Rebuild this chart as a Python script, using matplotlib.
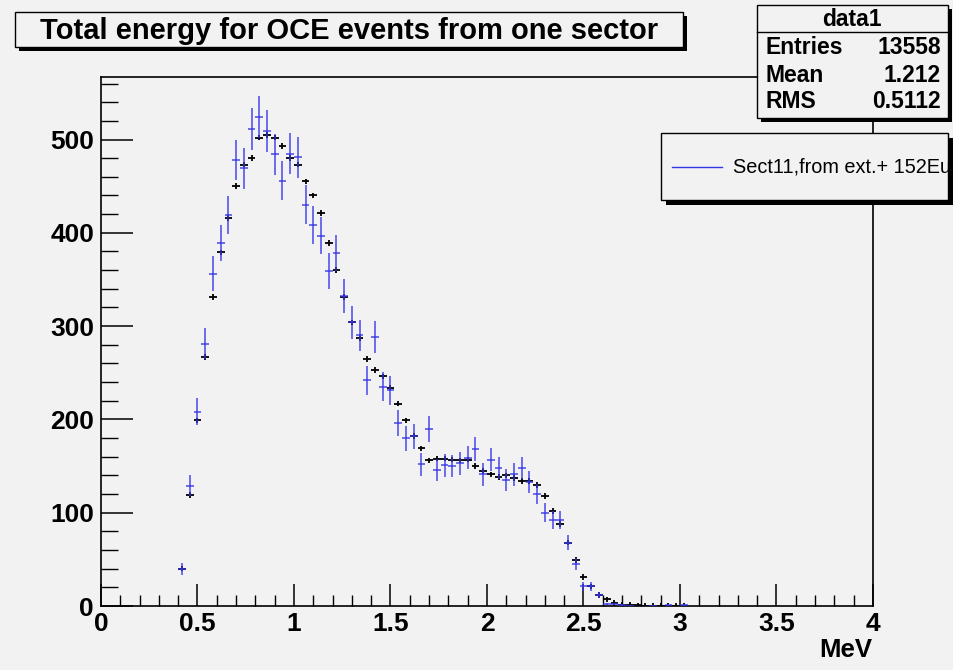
import numpy as np
import matplotlib
matplotlib.use('Agg')
import matplotlib.pyplot as plt
from matplotlib.patches import Rectangle
from matplotlib.lines import Line2D
from matplotlib.ticker import MultipleLocator

# ---------------- data ----------------
centers = [0.42, 0.46, 0.50, 0.54, 0.58, 0.62, 0.66, 0.70, 0.74, 0.78,
           0.82, 0.86, 0.90, 0.94, 0.98, 1.02, 1.06, 1.10, 1.14, 1.18,
           1.22, 1.26, 1.30, 1.34, 1.38, 1.42, 1.46, 1.50, 1.54, 1.58,
           1.62, 1.66, 1.70, 1.74, 1.78, 1.82, 1.86, 1.90, 1.94, 1.98,
           2.02, 2.06, 2.10, 2.14, 2.18, 2.22, 2.26, 2.30, 2.34, 2.38,
           2.42, 2.46, 2.50, 2.54, 2.58, 2.62, 2.66, 2.70, 2.74, 2.78,
           2.82, 2.86, 2.90, 2.94, 2.98, 3.02]
black_counts = [40, 119, 199, 267, 331, 379, 416, 450, 473, 480,
                502, 505, 502, 493, 480, 473, 455, 440, 421, 389,
                360, 331, 304, 287, 265, 253, 246, 234, 217, 199,
                182, 169, 156, 158, 158, 157, 156, 157, 150, 145,
                141, 138, 140, 137, 134, 134, 130, 118, 102, 88,
                68, 49, 31, 21, 12, 7, 3.5, 1.5, 1.0, 0.6,
                0.5, 0.3, 0.3, 0.2, 0.2, 0.1]
blue_counts = [40, 129, 208, 281, 356, 389, 419, 478, 469, 511,
               524, 509, 484, 456, 485, 481, 430, 408, 397, 359,
               378, 332, 304, 290, 242, 288, 235, 231, 196, 180,
               182, 152, 190, 146, 151, 150, 153, 159, 168, 141,
               157, 148, 135, 141, 148, 133, 120, 100, 92, 92,
               68, 45, 21, 21, 12, 2, 2, 1, 0.5, 0,
               0, 0.5, 0, 1, 0, 1]
bin_halfwidth = 0.02

title_text = "Total energy for OCE events from one sector"
stats_name = "data1"
stats_labels = ["Entries", "Mean", "RMS"]
stats_values = ["13558", "1.212", "0.5112"]
legend_label = "Sect11,from ext.+ 152Eu"
x_label = "MeV"
x_ticks = [0, 0.5, 1, 1.5, 2, 2.5, 3, 3.5, 4]
x_ticklabels = ["0", "0.5", "1", "1.5", "2", "2.5", "3", "3.5", "4"]
y_ticks = [0, 100, 200, 300, 400, 500]

# ---------------- figure ----------------
W, H = 954, 670
BG = '#f2f2f2'
plt.rcParams['font.family'] = ['Liberation Sans', 'DejaVu Sans']

fig = plt.figure(figsize=(W / 100, H / 100), dpi=100, facecolor=BG)


def fx(x):
    return x / W


def fy(y):
    return 1 - y / H


ax = fig.add_axes([fx(101), fy(606), fx(873) - fx(101), fy(77) - fy(606)])
ax.set_facecolor(BG)
ax.set_xlim(0, 4)
ax.set_ylim(0, 567)

c = np.array(centers)
bk = np.array(black_counts, dtype=float)
bl = np.array(blue_counts, dtype=float)

# black (reference) histogram: small error crosses
mk = bk > 0
ax.errorbar(c[mk], bk[mk], xerr=bin_halfwidth, yerr=np.full(mk.sum(), 3.0),
            fmt='none', ecolor='black', elinewidth=1.3, capsize=0, zorder=3)

# blue data histogram with Poisson errors
mb = bl > 0
ax.errorbar(c[mb], bl[mb], xerr=bin_halfwidth, yerr=np.sqrt(bl[mb]),
            fmt='none', ecolor='#3535e8', elinewidth=1.1, capsize=0, zorder=4,
            alpha=0.9)

# axes styling
for s in ax.spines.values():
    s.set_linewidth(1.2)
    s.set_color('black')
ax.set_xticks(x_ticks)
ax.set_xticklabels(x_ticklabels)
ax.set_yticks(y_ticks)
ax.xaxis.set_minor_locator(MultipleLocator(0.1))
ax.yaxis.set_minor_locator(MultipleLocator(20))
ax.tick_params(axis='x', which='major', direction='in', length=16, width=1.1,
               labelsize=19, pad=4, top=False)
ax.tick_params(axis='x', which='minor', direction='in', length=8, width=1.0,
               top=False)
ax.tick_params(axis='y', which='major', direction='in', length=23, width=1.1,
               labelsize=19, pad=5, right=False)
ax.tick_params(axis='y', which='minor', direction='in', length=12, width=1.0,
               right=False)
for lab in ax.get_xticklabels() + ax.get_yticklabels():
    lab.set_fontweight('bold')

fig.text(fx(872), fy(650), x_label, ha='right', va='center', fontsize=18.5,
         fontweight='bold')


def shadow_box(x0, y0, x1, y1, off=4):
    sh = Rectangle((fx(x0 + off), fy(y1 + off)), fx(x1) - fx(x0), fy(y0) - fy(y1),
                   transform=fig.transFigure, facecolor='black', edgecolor='black',
                   lw=0, zorder=10)
    bx = Rectangle((fx(x0), fy(y1)), fx(x1) - fx(x0), fy(y0) - fy(y1),
                   transform=fig.transFigure, facecolor=BG, edgecolor='black',
                   lw=1.0, zorder=11)
    fig.add_artist(sh)
    fig.add_artist(bx)


# title box
shadow_box(15, 12, 683, 47)
fig.text(fx(349), fy(31), title_text, ha='center', va='center', fontsize=21,
         fontweight='bold', zorder=12)

# stats box
shadow_box(757, 5, 948, 118)
fig.add_artist(Line2D([fx(757), fx(948)], [fy(32), fy(32)], transform=fig.transFigure,
                      color='black', lw=1.0, zorder=12))
fig.text(fx(852), fy(19), stats_name, ha='center', va='center', fontsize=16.5,
         fontweight='bold', zorder=12)
row_y = [48, 75, 101]
for lab, val, yy in zip(stats_labels, stats_values, row_y):
    fig.text(fx(766), fy(yy), lab, ha='left', va='center', fontsize=16.5,
             fontweight='bold', zorder=12)
    fig.text(fx(941), fy(yy), val, ha='right', va='center', fontsize=16.5,
             fontweight='bold', zorder=12)

# legend box
shadow_box(661, 133, 948, 200, off=5)
fig.add_artist(Line2D([fx(672), fx(722)], [fy(167), fy(167)], transform=fig.transFigure,
                      color='#3535e8', lw=1.0, zorder=12))
fig.text(fx(733), fy(167), legend_label, ha='left', va='center', fontsize=14.3,
         zorder=12)

fig.savefig('out.png', dpi=100, facecolor=BG)
